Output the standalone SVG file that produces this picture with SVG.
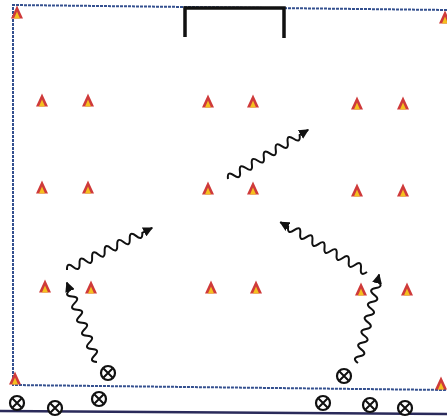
<svg xmlns="http://www.w3.org/2000/svg" width="447" height="418" viewBox="0 0 447 418">
<style>
.field{fill:none;stroke:#34508f;stroke-width:2;stroke-dasharray:3 1}
.goal{fill:none;stroke:#111;stroke-width:3.5}
.wave{fill:none;stroke:#111;stroke-width:2;marker-end:url(#ah)}
.pl circle{fill:#fff;stroke:#111;stroke-width:2.2}
.pl path{stroke:#111;stroke-width:2}
</style>
<defs>
<marker id="ah" viewBox="0 0 10 10" refX="9" refY="5" markerWidth="5" markerHeight="5" orient="auto" markerUnits="strokeWidth">
<path d="M0,0 L10,5 L0,10 Z" fill="#111"/>
</marker>
<g id="cone">
<path d="M0,-7.5 L6,5.5 L-6,5.5 Z" fill="#cf3a3a"/>
<path d="M0,-1.5 L3,5.5 L-3,5.5 Z" fill="#f4c020"/>
</g>
<g id="player" class="pl">
<circle r="7"/>
<path d="M-4.5,-4.5 L4.5,4.5 M4.5,-4.5 L-4.5,4.5"/>
</g>
</defs>
<g id="field">
<path class="field" d="M447,10 L13,5 L13,385 L447,390"/>
<path d="M0,411 L447,414" stroke="#2a2a5a" stroke-width="2.5" fill="none"/>
</g>
<g id="goal">
<path class="goal" d="M185,37 L185,8 L284,8 L284,38"/>
</g>
<g id="cones">
<use href="#cone" x="17" y="13"/>
<use href="#cone" x="445" y="18"/>
<use href="#cone" x="15" y="379"/>
<use href="#cone" x="441" y="384"/>
<use href="#cone" x="42" y="101"/>
<use href="#cone" x="88" y="101"/>
<use href="#cone" x="208" y="102"/>
<use href="#cone" x="253" y="102"/>
<use href="#cone" x="357" y="104"/>
<use href="#cone" x="403" y="104"/>
<use href="#cone" x="42" y="188"/>
<use href="#cone" x="88" y="188"/>
<use href="#cone" x="208" y="189"/>
<use href="#cone" x="253" y="189"/>
<use href="#cone" x="357" y="191"/>
<use href="#cone" x="403" y="191"/>
<use href="#cone" x="45" y="287"/>
<use href="#cone" x="91" y="288"/>
<use href="#cone" x="211" y="288"/>
<use href="#cone" x="256" y="288"/>
<use href="#cone" x="361" y="290"/>
<use href="#cone" x="407" y="290"/>
</g>
<g id="players">
<use href="#player" x="108" y="373"/>
<use href="#player" x="344" y="376"/>
<use href="#player" x="17" y="403"/>
<use href="#player" x="55" y="408"/>
<use href="#player" x="99" y="399"/>
<use href="#player" x="323" y="403"/>
<use href="#player" x="370" y="405"/>
<use href="#player" x="405" y="408"/>
</g>
<g id="connectors">
<path class="wave" transform="translate(228,179) rotate(-31.5)" d="M0,0 q3.5,-8 7,0 t7,0 t7,0 t7,0 t7,0 t7,0 t7,0 t7,0 t7,0 t7,0 t7,0 t7,0 l10,0"/>
<path class="wave" transform="translate(67,270) rotate(-26.3)" d="M0,0 q3.5,-8 7,0 t7,0 t7,0 t7,0 t7,0 t7,0 t7,0 t7,0 t7,0 t7,0 t7,0 t7,0 l11,0"/>
<path class="wave" transform="translate(367,272) rotate(-150.1)" d="M0,0 q3.5,-8 7,0 t7,0 t7,0 t7,0 t7,0 t7,0 t7,0 t7,0 t7,0 t7,0 t7,0 t7,0 t7,0 l9,0"/>
<path class="wave" transform="translate(97,362) rotate(-110.8)" d="M0,0 q3.5,-8 7,0 t7,0 t7,0 t7,0 t7,0 t7,0 t7,0 t7,0 t7,0 t7,0 t7,0 l8,0"/>
<path class="wave" transform="translate(358,363) rotate(-76.6)" d="M0,0 q3.5,-8 7,0 t7,0 t7,0 t7,0 t7,0 t7,0 t7,0 t7,0 t7,0 t7,0 t7,0 t7,0 l7,0"/>
</g>
</svg>
